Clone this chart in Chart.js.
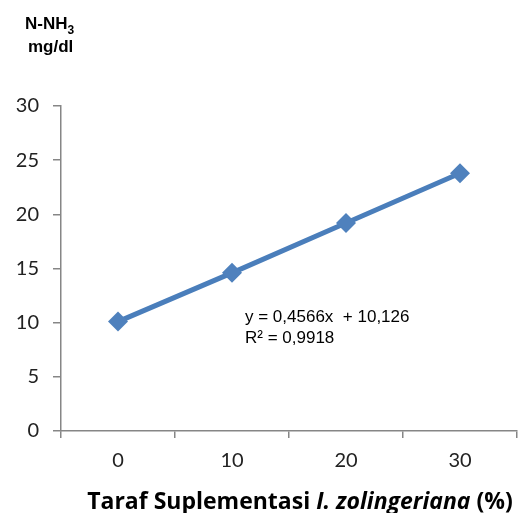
<!DOCTYPE html>
<html>
<head>
<meta charset="utf-8">
<script src="https://cdn.jsdelivr.net/npm/chart.js@4/dist/chart.umd.min.js"></script>
<style>
	html, body { margin: 0; padding: 0; background: #fff; overflow: hidden; }
	canvas { display: block; }
</style>
</head>
<body>
<canvas id="grafica" width="518" height="513"></canvas>
<script>
const kategori = ['0', '10', '20', '30'];
const nilaiNH3 = [10.1, 14.6, 19.2, 23.8];
const ticksY = [0, 5, 10, 15, 20, 25, 30];
const persamaan = ['y = 0,4566x  + 10,126', 'R\u00b2 = 0,9918'];

const abu = '#868686';

// judul sumbu dan persamaan garis tren digambar manual
const teksTambahan = {
	id: 'teksTambahan',
	afterDraw(chart) {
		const ctx = chart.ctx;
		ctx.save();
		ctx.fillStyle = '#000';
		ctx.textBaseline = 'alphabetic';

		// judul sumbu Y
		ctx.font = 'bold 17px "Liberation Sans", Arial';
		ctx.textAlign = 'left';
		ctx.fillText('N-NH', 25, 29);
		const w = ctx.measureText('N-NH').width;
		ctx.font = 'bold 12px "Liberation Sans", Arial';
		ctx.fillText('3', 25 + w, 34);
		ctx.font = 'bold 17px "Liberation Sans", Arial';
		ctx.fillText('mg/dl', 28, 52);

		// judul sumbu X dengan bagian miring
		const bagian = [
			['Taraf Suplementasi ', 'bold 23px "Open Sans"'],
			['I. zolingeriana', 'italic bold 23px "Open Sans"'],
			[' (%)', 'bold 23px "Open Sans"'],
		];
		let total = 0;
		bagian.forEach((b) => {
			ctx.font = b[1];
			total += ctx.measureText(b[0]).width;
		});
		let x = 300 - total / 2;
		bagian.forEach((b) => {
			ctx.font = b[1];
			ctx.fillText(b[0], x, 509);
			x += ctx.measureText(b[0]).width;
		});

		// persamaan garis tren
		ctx.font = '17px "Liberation Sans", Arial';
		ctx.fillText(persamaan[0], 245, 322);
		ctx.fillText(persamaan[1], 245, 343);
		ctx.restore();
	},
};

const ctx = document.querySelector('#grafica');
const chart = new Chart(ctx, {
	type: 'line',
	data: {
		labels: kategori,
		datasets: [
			{
				label: 'N-NH3',
				data: nilaiNH3,
				borderColor: '#4a7ebb',
				backgroundColor: '#4f81bd',
				borderWidth: 5,
				pointStyle: 'rectRot',
				pointRadius: 10,
				pointBorderWidth: 0,
				pointBackgroundColor: '#4f81bd',
				tension: 0,
			},
		],
	},
	options: {
		responsive: false,
		animation: false,
		layout: {
			autoPadding: false,
			padding: { top: 106, right: 1, left: 0, bottom: 0 },
		},
		plugins: {
			legend: { display: false },
			tooltip: { enabled: false },
		},
		scales: {
			x: {
				offset: true,
				grid: {
					offset: true,
					drawOnChartArea: false,
					drawTicks: true,
					tickLength: 7,
					color: abu,
					lineWidth: 1.5,
				},
				border: { color: abu, width: 1.5 },
				ticks: {
					color: '#222',
					font: { family: 'Lato', size: 20 },
					padding: 11,
					maxRotation: 0,
				},
				afterFit(scale) {
					scale.height = 82;
					scale.paddingLeft = 0;
					scale.paddingRight = 0;
				},
			},
			y: {
				min: 0,
				max: 30,
				afterBuildTicks(scale) {
					scale.ticks = ticksY.map((v) => ({ value: v }));
				},
				grid: {
					drawOnChartArea: false,
					drawTicks: true,
					tickLength: 8,
					color: abu,
					lineWidth: 1.5,
				},
				border: { color: abu, width: 1.5 },
				ticks: {
					color: '#222',
					font: { family: 'Lato', size: 20 },
					padding: 14,
				},
				afterFit(scale) {
					scale.width = 61;
					scale.paddingTop = 0;
					scale.paddingBottom = 0;
				},
			},
		},
	},
	plugins: [teksTambahan],
});
</script>
</body>
</html>
